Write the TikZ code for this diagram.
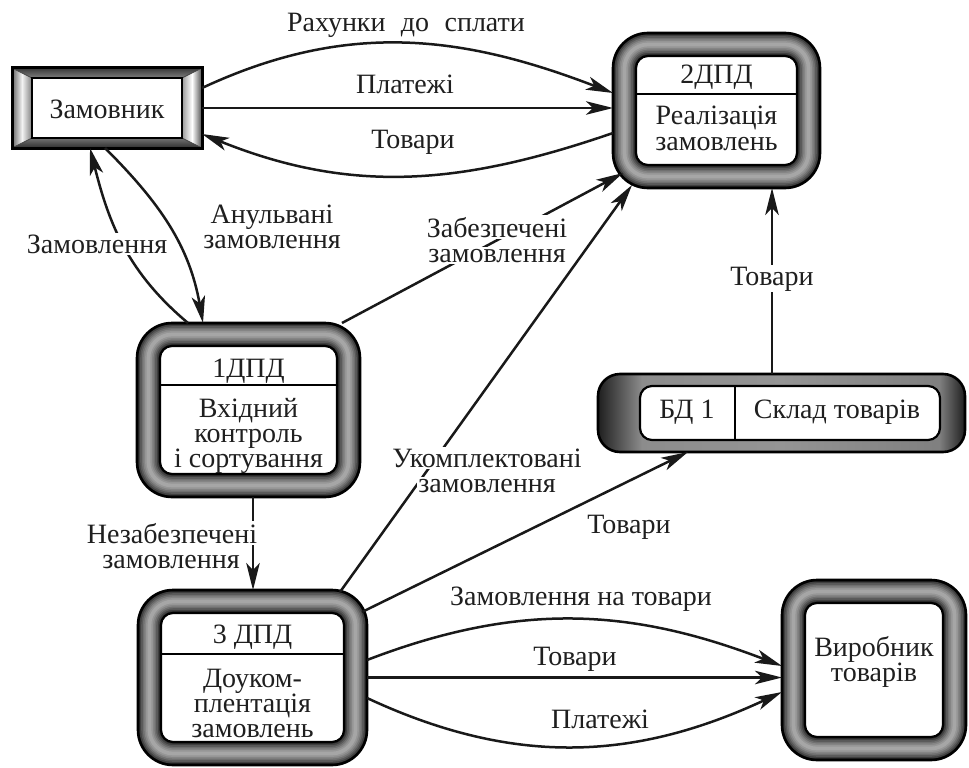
\documentclass[tikz,border=0pt]{standalone}
\usepackage{fontspec}
\setmainfont{Liberation Serif}
\usetikzlibrary{arrows.meta}

% shading of the store frame: dark ends, grey top and bottom strips
\pgfdeclarehorizontalshading{storeshade}{100bp}{%
  color(0bp)=(black!88); color(25bp)=(black!88); color(31bp)=(black!45);
  color(50bp)=(black!42); color(71.5bp)=(black!50); color(75bp)=(black!88);
  color(100bp)=(black!88)}

% tube-like rounded frame around a node: #1 node, #2 frame thickness, #3 outer radius
\newcommand{\tubeframe}[3]{%
  \pgfmathsetmacro{\tubehalf}{#2/2}%
  \pgfmathsetmacro{\tuberad}{#3-#2/2}%
  \pgfmathsetmacro{\tubeinner}{#3-#2}%
  \foreach \f/\c in {1/86,0.86/75,0.72/65,0.58/56,0.44/48,0.3/41,0.16/35}{%
    \pgfmathsetmacro{\tubelw}{\f*#2}%
    \draw[line width=\tubelw pt, draw=black!\c, rounded corners=\tuberad pt]
      ([shift={(\tubehalf pt,-\tubehalf pt)}]#1.north west) rectangle
      ([shift={(-\tubehalf pt,\tubehalf pt)}]#1.south east);
  }%
  \draw[line width=2.6pt, rounded corners=#3pt] (#1.north west) rectangle (#1.south east);
  \draw[line width=2.2pt, fill=white, rounded corners=\tubeinner pt]
    ([shift={(#2pt,-#2pt)}]#1.north west) rectangle ([shift={(-#2pt,#2pt)}]#1.south east);
}

\begin{document}
\begin{tikzpicture}[x=1pt,y=-1pt,
  every node/.style={font=\fontsize{28pt}{30pt}\selectfont, text=black!88},
  frame/.style={draw=none, inner sep=0pt, outer sep=0pt},
  txt/.style={inner sep=0pt, anchor=base},
  lab/.style={fill=white, inner sep=1.5pt, anchor=base},
  flow/.style={draw=black!90, line width=2.5pt,
    -{Stealth[length=27pt,width=13.5pt,inset=7pt]}}]

\useasboundingbox (0,0) rectangle (969,768);

% ---- outer shapes of all elements
\node[frame, minimum width=190pt, minimum height=80pt]  (zam) at (107,108) {};
\node[frame, minimum width=207pt, minimum height=155pt] (p2)  at (716.5,110.5) {};
\node[frame, minimum width=223pt, minimum height=174pt] (p1)  at (248.5,410) {};
\node[frame, minimum width=229pt, minimum height=175pt] (p3)  at (252.5,677.5) {};
\node[frame, minimum width=184pt, minimum height=180pt] (vyr) at (874,670) {};
\node[frame, minimum width=367pt, minimum height=78pt]  (bd)  at (781.5,413) {};

% ---- external entity: bevelled rectangular frame
\shade[top color=black!78, bottom color=black!50] (12,68) -- (202,68) -- (182,78) -- (32,78) -- cycle;
\shade[top color=black!55, bottom color=black!82] (12,148) -- (202,148) -- (182,138) -- (32,138) -- cycle;
\shade[left color=black!60, right color=black!50, middle color=black!5] (12,68) -- (32,78) -- (32,138) -- (12,148) -- cycle;
\shade[left color=black!40, right color=black!70, middle color=white] (202,68) -- (182,78) -- (182,138) -- (202,148) -- cycle;
\draw[line width=0.8pt, black!75] (12,68) -- (32,78) (202,68) -- (182,78) (12,148) -- (32,138) (202,148) -- (182,138);
\draw[line width=3pt] (zam.north west) rectangle (zam.south east);
\draw[line width=2.2pt, fill=white] (32,78) rectangle (182,138);
\node[txt] (zamt) at (107,118) {Замовник};

% ---- processes
\tubeframe{p2}{23}{35}
\draw[line width=2pt] (636,94) -- (797,94);
\node[txt] (p2a) at (716.5,83) {2ДПД};
\node[txt] (p2b) at (716.5,124) {Реалізація};
\node[txt] (p2c) at (716.5,150) {замовлень};

\tubeframe{p1}{23}{35}
\draw[line width=2pt] (160,385) -- (337,385);
\node[txt] (p1a) at (248.5,377) {1ДПД};
\node[txt] (p1b) at (248.5,417) {Вхідний};
\node[txt] (p1c) at (248.5,442) {контроль};
\node[txt] (p1d) at (248.5,467) {і сортування};

\tubeframe{p3}{23}{35}
\draw[line width=2pt] (161,654) -- (344,654);
\node[txt] (p3a) at (252.5,643) {3 ДПД};
\node[txt] (p3b) at (252.5,687) {Доуком-};
\node[txt] (p3c) at (252.5,712) {плентація};
\node[txt] (p3d) at (252.5,737) {замовлень};

\tubeframe{vyr}{23}{35}
\node[txt] (vyra) at (874,656) {Виробник};
\node[txt] (vyrb) at (874,681) {товарів};

% ---- data store
\shade[shading=storeshade, rounded corners=22pt] (bd.north west) rectangle (bd.south east);
\draw[line width=2.6pt, rounded corners=22pt] (bd.north west) rectangle (bd.south east);
\draw[line width=2.2pt, fill=white, rounded corners=12pt] (640,386) rectangle (940,440);
\draw[line width=2pt] (735,386) -- (735,440);
\node[txt] (bda) at (687,418) {БД 1};
\node[txt] (bdb) at (837,418) {Склад товарів};

% ---- data flows
\draw[flow] ([yshift=20pt]zam.east) to[out=25,in=159] ([yshift=17.5pt]p2.west);
\draw[flow] (zam.east) -- (zam.east -| p2.west);
\draw[flow] ([yshift=-22.5pt]p2.west) to[out=199,in=-22] ([yshift=-26pt]zam.east);
\draw[flow] ([xshift=-60.5pt]p1.north) to[out=140,in=-76] ([xshift=-17pt]zam.south);
\draw[flow] ([xshift=-2pt]zam.south) to[out=-45,in=100] ([xshift=-45.5pt]p1.north);
\draw[flow] ([xshift=-18pt]p1.north east) -- ([xshift=10pt,yshift=15pt]p2.south west);
\draw[flow] ([xshift=-27pt,yshift=-2pt]p3.north east) -- ([xshift=19pt,yshift=3pt]p2.south west);
\draw[flow] ([xshift=-5pt,yshift=-22pt]p3.north east) -- ([xshift=-93.5pt]bd.south);
\draw[flow] ([xshift=-9.5pt]bd.north) -- ([xshift=-9.5pt]bd.north |- p2.south);
\draw[flow] ([xshift=4.5pt]p1.south) -- ([xshift=4.5pt]p1.south |- p3.north);
\draw[flow] ([yshift=17.5pt]p3.east) to[out=21,in=159] ([yshift=4pt]vyr.west);
\draw[flow] (p3.east) -- (p3.east -| vyr.west);
\draw[flow] ([yshift=-20.5pt]p3.east) to[out=-25,in=205] ([yshift=-22pt]vyr.west);

% ---- flow labels
\node[lab] (l1)  at (406,32)  {Рахунки\hspace{0.55em}до\hspace{0.55em}сплати};
\node[lab] (l2)  at (405,93)  {Платежі};
\node[lab] (l3)  at (413,148) {Товари};
\node[lab] (l4)  at (97,253)  {Замовлення};
\node[lab] (l5a) at (272,223) {Анульвані};
\node[lab] (l5b) at (272,248) {замовлення};
\node[lab] (l6a) at (497,237) {Забезпечені};
\node[lab] (l6b) at (497,262) {замовлення};
\node[lab] (l7)  at (772,285) {Товари};
\node[lab] (l8a) at (487,467) {Укомплектовані};
\node[lab] (l8b) at (487,492) {замовлення};
\node[lab] (l9)  at (629,533) {Товари};
\node[lab] (l10a) at (172,543) {Незабезпечені};
\node[lab] (l10b) at (171,568) {замовлення};
\node[lab] (l11) at (581,605) {Замовлення на товари};
\node[lab] (l12) at (575,665) {Товари};
\node[lab] (l13) at (600,728) {Платежі};
\end{tikzpicture}
\end{document}
